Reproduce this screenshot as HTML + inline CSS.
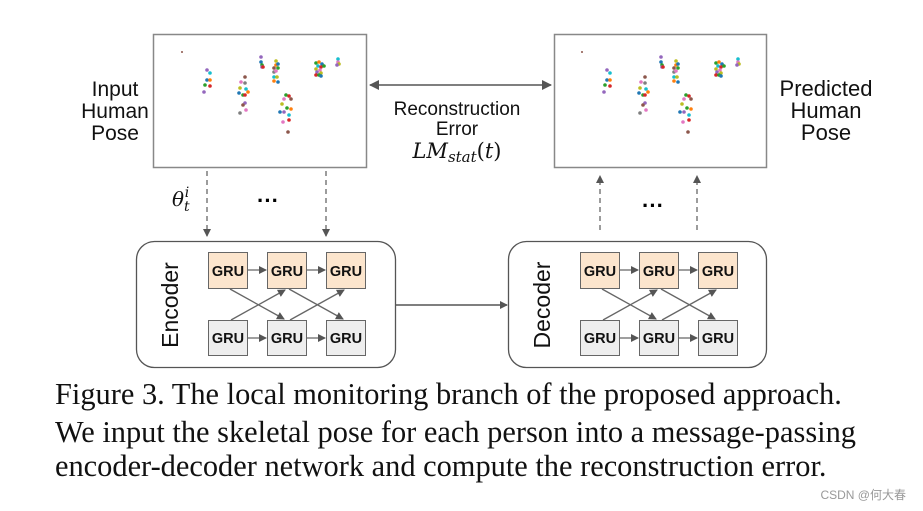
<!DOCTYPE html>
<html><head><meta charset="utf-8"><style>
body{margin:0;background:#fff;width:923px;height:511px;overflow:hidden}
svg{position:absolute;left:0;top:0}
.cap{position:absolute;left:55px;font-family:"Liberation Serif",serif;font-size:30.4px;color:#111;white-space:nowrap}
</style></head><body>
<svg width="923" height="511" viewBox="0 0 923 511">
<defs>
<marker id="a" markerWidth="8" markerHeight="8" refX="7" refY="4" orient="auto" markerUnits="userSpaceOnUse"><path d="M0,0 L8,4 L0,8z" fill="#555"/></marker>
<marker id="b" markerWidth="10" markerHeight="10" refX="9" refY="5" orient="auto-start-reverse" markerUnits="userSpaceOnUse"><path d="M0,0 L10,5 L0,10z" fill="#555"/></marker>
<g id="dots">
<circle cx="182" cy="52" r="1" fill="#8c564b"/>
<circle cx="207" cy="70" r="1.8" fill="#9467bd"/><circle cx="210" cy="73" r="1.8" fill="#17becf"/><circle cx="207" cy="80" r="1.8" fill="#1f77b4"/><circle cx="210" cy="80" r="1.8" fill="#ff7f0e"/><circle cx="205" cy="85" r="1.8" fill="#2ca02c"/><circle cx="210" cy="86" r="1.8" fill="#d62728"/><circle cx="204" cy="92" r="1.8" fill="#9467bd"/>
<circle cx="245" cy="77" r="1.8" fill="#8c564b"/><circle cx="241" cy="82" r="1.8" fill="#e377c2"/><circle cx="245" cy="83" r="1.8" fill="#7f7f7f"/><circle cx="240" cy="88" r="1.8" fill="#bcbd22"/><circle cx="246" cy="89" r="1.8" fill="#17becf"/><circle cx="239" cy="93" r="1.8" fill="#1f77b4"/><circle cx="248" cy="92" r="1.8" fill="#ff7f0e"/><circle cx="243" cy="95" r="1.8" fill="#2ca02c"/><circle cx="245" cy="95" r="1.8" fill="#d62728"/><circle cx="245" cy="103" r="1.8" fill="#9467bd"/><circle cx="243" cy="105" r="1.8" fill="#8c564b"/><circle cx="246" cy="110" r="1.8" fill="#e377c2"/><circle cx="240" cy="113" r="1.8" fill="#7f7f7f"/>
<circle cx="261" cy="57" r="1.8" fill="#9467bd"/><circle cx="261" cy="62" r="1.8" fill="#1f77b4"/><circle cx="262" cy="65" r="1.8" fill="#2ca02c"/><circle cx="262" cy="67" r="1.8" fill="#9467bd"/><circle cx="263" cy="67" r="1.8" fill="#d62728"/>
<circle cx="276" cy="61" r="1.8" fill="#bcbd22"/><circle cx="276" cy="65" r="1.8" fill="#ff7f0e"/><circle cx="278" cy="64" r="1.8" fill="#1f77b4"/><circle cx="274" cy="68" r="1.8" fill="#8c564b"/><circle cx="278" cy="68" r="1.8" fill="#2ca02c"/><circle cx="274" cy="72" r="1.8" fill="#7f7f7f"/><circle cx="276" cy="71" r="1.8" fill="#e377c2"/><circle cx="274" cy="77" r="1.8" fill="#17becf"/><circle cx="277" cy="77" r="1.8" fill="#bcbd22"/><circle cx="274" cy="81" r="1.8" fill="#ff7f0e"/><circle cx="278" cy="82" r="1.8" fill="#1f77b4"/>
<circle cx="286" cy="95" r="1.8" fill="#2ca02c"/><circle cx="289" cy="96" r="1.8" fill="#d62728"/><circle cx="284" cy="99" r="1.8" fill="#e377c2"/><circle cx="291" cy="99" r="1.8" fill="#8c564b"/><circle cx="282" cy="104" r="1.8" fill="#bcbd22"/><circle cx="287" cy="108" r="1.8" fill="#2ca02c"/><circle cx="291" cy="109" r="1.8" fill="#ff7f0e"/><circle cx="280" cy="112" r="1.8" fill="#1f77b4"/><circle cx="284" cy="112" r="1.8" fill="#9467bd"/><circle cx="289" cy="115" r="1.8" fill="#17becf"/><circle cx="289" cy="120" r="1.8" fill="#d62728"/><circle cx="283" cy="122" r="1.8" fill="#e377c2"/><circle cx="288" cy="132" r="1.8" fill="#8c564b"/>
<circle cx="316" cy="63" r="1.8" fill="#2ca02c"/><circle cx="319" cy="62" r="1.8" fill="#ff7f0e"/><circle cx="322" cy="64" r="1.8" fill="#1f77b4"/><circle cx="318" cy="66" r="1.8" fill="#17becf"/><circle cx="321" cy="67" r="1.8" fill="#d62728"/><circle cx="324" cy="66" r="1.8" fill="#2ca02c"/><circle cx="316" cy="69" r="1.8" fill="#bcbd22"/><circle cx="320" cy="70" r="1.8" fill="#e377c2"/><circle cx="317" cy="72" r="1.8" fill="#9467bd"/><circle cx="321" cy="73" r="1.8" fill="#bcbd22"/><circle cx="316" cy="75" r="1.8" fill="#d62728"/><circle cx="319" cy="75" r="1.8" fill="#2ca02c"/><circle cx="321" cy="76" r="1.8" fill="#1f77b4"/>
<circle cx="338" cy="59" r="1.8" fill="#17becf"/><circle cx="338" cy="62" r="1.8" fill="#e377c2"/><circle cx="339" cy="64" r="1.8" fill="#bcbd22"/><circle cx="337" cy="65" r="1.8" fill="#9467bd"/>
</g>
</defs>
<rect x="153.5" y="34.5" width="213" height="133" fill="#fff" stroke="#888" stroke-width="1.5"/>
<use href="#dots"/>
<rect x="554.5" y="34.5" width="212" height="133" fill="#fff" stroke="#888" stroke-width="1.5"/>
<use href="#dots" transform="translate(400,0)"/>
<line x1="370" y1="85" x2="551" y2="85" stroke="#555" stroke-width="1.5" marker-start="url(#b)" marker-end="url(#b)"/>
<g font-family="Liberation Sans,sans-serif" font-size="21" fill="#111" text-anchor="middle">
<text x="115" y="96">Input</text><text x="115" y="118">Human</text><text x="115" y="140">Pose</text>
<text x="826" y="96" font-size="22">Predicted</text><text x="826" y="118" font-size="22">Human</text><text x="826" y="140" font-size="22">Pose</text>
<text x="457" y="115" font-size="19">Reconstruction</text><text x="457" y="135" font-size="19">Error</text>
</g>
<text x="457" y="158" text-anchor="middle" font-family="DejaVu Serif,serif" font-style="italic" font-size="21" fill="#111">LM<tspan font-size="15" dy="4">stat</tspan><tspan dy="-4" font-style="normal">(</tspan>t<tspan font-style="normal">)</tspan></text>
<text x="172" y="206" font-family="DejaVu Serif,serif" font-style="italic" font-size="20" fill="#111">θ<tspan font-size="14" dy="5">t</tspan><tspan font-size="14" dx="-5" dy="-14">i</tspan></text>
<text x="268" y="208" font-family="Liberation Sans,sans-serif" font-weight="bold" font-size="22" text-anchor="middle">···</text>
<text x="653" y="213" font-family="Liberation Sans,sans-serif" font-weight="bold" font-size="22" text-anchor="middle">···</text>
<g stroke="#666" stroke-width="1.3" stroke-dasharray="5,4" fill="none">
<line x1="207" y1="171" x2="207" y2="236" marker-end="url(#a)"/>
<line x1="326" y1="171" x2="326" y2="236" marker-end="url(#a)"/>
<line x1="600" y1="230" x2="600" y2="176" marker-end="url(#a)"/>
<line x1="697" y1="230" x2="697" y2="176" marker-end="url(#a)"/>
</g>
<rect x="136.5" y="241.5" width="259" height="126" rx="18" fill="#fff" stroke="#555" stroke-width="1.3"/>
<rect x="508.5" y="241.5" width="258" height="126" rx="18" fill="#fff" stroke="#555" stroke-width="1.3"/>
<line x1="396" y1="305" x2="507" y2="305" stroke="#555" stroke-width="1.5" marker-end="url(#a)"/>
<g font-family="Liberation Sans,sans-serif" font-size="23" fill="#111" text-anchor="middle">
<text transform="translate(178,305) rotate(-90)">Encoder</text>
<text transform="translate(550,305) rotate(-90)">Decoder</text>
</g>
<g id="net" font-family="Liberation Sans,sans-serif" font-weight="bold" font-size="14.5" fill="#111" text-anchor="middle">
<rect x="208.5" y="252.5" width="39" height="36" fill="#fce5cd" stroke="#666"/>
<rect x="267.5" y="252.5" width="39" height="36" fill="#fce5cd" stroke="#666"/>
<rect x="326.5" y="252.5" width="39" height="36" fill="#fce5cd" stroke="#666"/>
<rect x="208.5" y="320.5" width="39" height="35" fill="#eee" stroke="#666"/>
<rect x="267.5" y="320.5" width="39" height="35" fill="#eee" stroke="#666"/>
<rect x="326.5" y="320.5" width="39" height="35" fill="#eee" stroke="#666"/>
<text x="228" y="276">GRU</text><text x="287" y="276">GRU</text><text x="346" y="276">GRU</text>
<text x="228" y="343">GRU</text><text x="287" y="343">GRU</text><text x="346" y="343">GRU</text>
<g stroke="#666" stroke-width="1.3">
<line x1="248" y1="270" x2="266" y2="270" marker-end="url(#a)"/>
<line x1="307" y1="270" x2="325" y2="270" marker-end="url(#a)"/>
<line x1="248" y1="338" x2="266" y2="338" marker-end="url(#a)"/>
<line x1="307" y1="338" x2="325" y2="338" marker-end="url(#a)"/>
<line x1="230" y1="289" x2="284" y2="319" marker-end="url(#a)"/>
<line x1="231" y1="320" x2="285" y2="290" marker-end="url(#a)"/>
<line x1="289" y1="289" x2="343" y2="319" marker-end="url(#a)"/>
<line x1="290" y1="320" x2="344" y2="290" marker-end="url(#a)"/>
</g>
</g>
<use href="#net" transform="translate(372,0)"/>
<text x="906" y="499" text-anchor="end" font-family="Liberation Sans,'Noto Sans CJK SC',sans-serif" font-size="12" fill="#999">CSDN @何大春</text>
</svg>
<div class="cap" style="top:377px">Figure 3. The local monitoring branch of the proposed approach.</div>
<div class="cap" style="top:415px">We input the skeletal pose for each person into a message-passing</div>
<div class="cap" style="top:449px">encoder-decoder network and compute the reconstruction error.</div>
</body></html>
